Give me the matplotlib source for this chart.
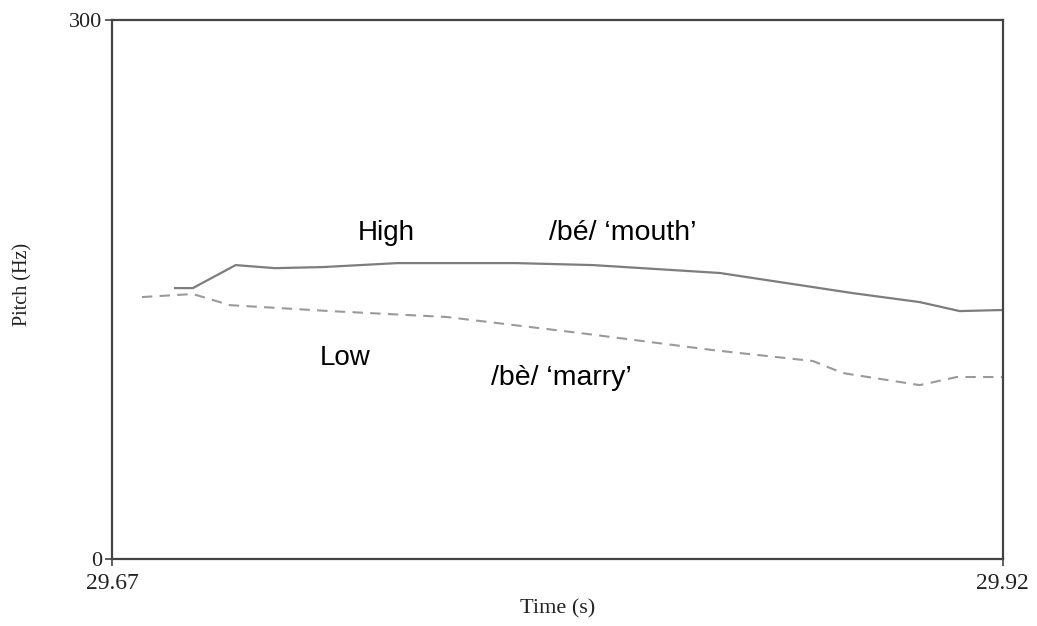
import matplotlib.pyplot as plt

# Pitch tracks
time_high = [29.6877, 29.6927, 29.7047, 29.7157, 29.7292, 29.7500, 29.7836,
             29.8050, 29.8406, 29.8779, 29.8967, 29.9079, 29.92]
pitch_high = [150.8, 150.8, 163.6, 161.9, 162.5, 164.7, 164.7,
              163.6, 159.2, 148.0, 143.0, 138.0, 138.6]

time_low = [29.6784, 29.6927, 29.7031, 29.7312, 29.7640, 29.8013, 29.8386,
            29.8667, 29.8751, 29.8967, 29.9071, 29.92]
pitch_low = [145.8, 147.5, 141.3, 138.0, 134.7, 125.8, 116.3,
             110.2, 103.5, 96.8, 101.3, 101.3]

x_ticks = [29.67, 29.92]
y_ticks = [0, 300]

fig = plt.figure(figsize=(10.37, 6.26), dpi=100)
ax = fig.add_axes([0.108, 0.107, 0.859, 0.861])

ax.plot(time_high, pitch_high, color="#7d7d7d", lw=1.6)
ax.plot(time_low, pitch_low, color="#9a9a9a", lw=1.5, ls=(0, (5, 3.5)))

ax.set_xlim(29.67, 29.92)
ax.set_ylim(0, 300)
ax.set_xticks(x_ticks)
ax.set_xticklabels(["29.67", "29.92"])
ax.set_yticks(y_ticks)
ax.set_yticklabels(["0", "300"])

serif = ["Liberation Serif", "DejaVu Serif"]
for lab in ax.get_xticklabels():
    lab.set_fontfamily(serif)
    lab.set_fontsize(17)
    lab.set_color("#222222")
for lab in ax.get_yticklabels():
    lab.set_fontfamily(serif)
    lab.set_fontsize(16)
    lab.set_color("#222222")
ax.tick_params(direction="out", length=5, width=1.2, color="#444444")
ax.tick_params(axis="x", pad=5)
ax.tick_params(axis="y", pad=2)

for sp in ax.spines.values():
    sp.set_color("#444444")
    sp.set_linewidth(1.6)

ax.set_xlabel("Time (s)", family=serif, fontsize=16, color="#222222")
ax.set_ylabel("Pitch (Hz)", family=serif, fontsize=14.5, color="#222222")
ax.xaxis.label.set_va("center")
ax.yaxis.label.set_va("center")
ax.xaxis.set_label_coords(0.5, -0.093)
ax.yaxis.set_label_coords(-0.1, 0.51)

sans = ["Liberation Sans", "DejaVu Sans"]
ax.text(29.7469, 177.5, "High", family=sans, fontsize=20, ha="center", va="baseline")
ax.text(29.8134, 177.5, "/bé/ \u2018mouth\u2019", family=sans, fontsize=20.5, ha="center", va="baseline")
ax.text(29.7354, 108, "Low", family=sans, fontsize=20, ha="center", va="baseline")
ax.text(29.7960, 96.8, "/bè/ \u2018marry\u2019", family=sans, fontsize=20.5, ha="center", va="baseline")

fig.savefig("out.png", dpi=100)
